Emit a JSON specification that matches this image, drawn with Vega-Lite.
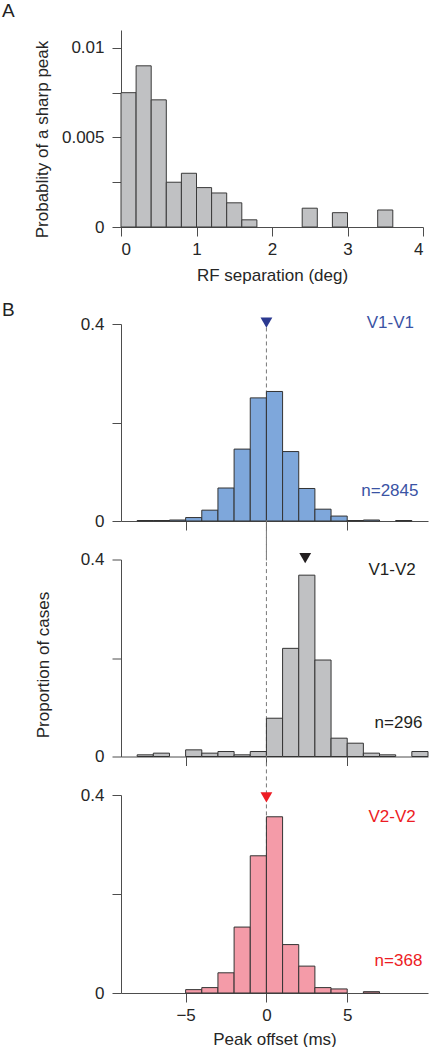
{
  "$schema": "https://vega.github.io/schema/vega-lite/v6.json",
  "background": "white",
  "padding": {"left": 2, "top": 2, "right": 0, "bottom": 0},
  "bounds": "flush",
  "spacing": 38.5,
  "config": {
    "view": {"stroke": null},
    "font": "Liberation Sans",
    "axis": {
      "domainColor": "#4d4d4d", "tickColor": "#4d4d4d", "labelColor": "#262626", "titleColor": "#262626",
      "labelFont": "Liberation Sans", "titleFont": "Liberation Sans", "labelFontSize": 17, "titleFontSize": 17,
      "titleFontWeight": "normal", "tickSize": 9, "grid": false, "labelPadding": 5, "domainWidth": 1, "tickWidth": 1
    },
    "axisY": {"labelPadding": 8},
    "title": {"font": "Liberation Sans", "fontSize": 19, "fontWeight": "normal", "color": "#222222", "anchor": "start", "frame": "group"}
  },
  "datasets": {
    "separation": [
      {"sep_start": 0.0, "sep_end": 0.2, "probability": 0.0075},
      {"sep_start": 0.2, "sep_end": 0.4, "probability": 0.0090},
      {"sep_start": 0.4, "sep_end": 0.6, "probability": 0.0071},
      {"sep_start": 0.6, "sep_end": 0.8, "probability": 0.0025},
      {"sep_start": 0.8, "sep_end": 1.0, "probability": 0.0030},
      {"sep_start": 1.0, "sep_end": 1.2, "probability": 0.0022},
      {"sep_start": 1.2, "sep_end": 1.4, "probability": 0.0019},
      {"sep_start": 1.4, "sep_end": 1.6, "probability": 0.00135},
      {"sep_start": 1.6, "sep_end": 1.8, "probability": 0.0004},
      {"sep_start": 2.4, "sep_end": 2.6, "probability": 0.00105},
      {"sep_start": 2.8, "sep_end": 3.0, "probability": 0.0008},
      {"sep_start": 3.4, "sep_end": 3.6, "probability": 0.00095}
    ],
    "offsets": [
      {"pair": "V1-V1", "offset_start": -8, "offset_end": -7, "proportion": 0.001},
      {"pair": "V1-V1", "offset_start": -7, "offset_end": -6, "proportion": 0.001},
      {"pair": "V1-V1", "offset_start": -6, "offset_end": -5, "proportion": 0.002},
      {"pair": "V1-V1", "offset_start": -5, "offset_end": -4, "proportion": 0.007},
      {"pair": "V1-V1", "offset_start": -4, "offset_end": -3, "proportion": 0.022},
      {"pair": "V1-V1", "offset_start": -3, "offset_end": -2, "proportion": 0.067},
      {"pair": "V1-V1", "offset_start": -2, "offset_end": -1, "proportion": 0.146},
      {"pair": "V1-V1", "offset_start": -1, "offset_end": 0, "proportion": 0.250},
      {"pair": "V1-V1", "offset_start": 0, "offset_end": 1, "proportion": 0.263},
      {"pair": "V1-V1", "offset_start": 1, "offset_end": 2, "proportion": 0.141},
      {"pair": "V1-V1", "offset_start": 2, "offset_end": 3, "proportion": 0.066},
      {"pair": "V1-V1", "offset_start": 3, "offset_end": 4, "proportion": 0.024},
      {"pair": "V1-V1", "offset_start": 4, "offset_end": 5, "proportion": 0.010},
      {"pair": "V1-V1", "offset_start": 5, "offset_end": 6, "proportion": 0.001},
      {"pair": "V1-V1", "offset_start": 6, "offset_end": 7, "proportion": 0.002},
      {"pair": "V1-V1", "offset_start": 8, "offset_end": 9, "proportion": 0.001},
      {"pair": "V1-V2", "offset_start": -8, "offset_end": -7, "proportion": 0.0034},
      {"pair": "V1-V2", "offset_start": -7, "offset_end": -6, "proportion": 0.0068},
      {"pair": "V1-V2", "offset_start": -5, "offset_end": -4, "proportion": 0.0135},
      {"pair": "V1-V2", "offset_start": -4, "offset_end": -3, "proportion": 0.0068},
      {"pair": "V1-V2", "offset_start": -3, "offset_end": -2, "proportion": 0.0101},
      {"pair": "V1-V2", "offset_start": -2, "offset_end": -1, "proportion": 0.0034},
      {"pair": "V1-V2", "offset_start": -1, "offset_end": 0, "proportion": 0.0101},
      {"pair": "V1-V2", "offset_start": 0, "offset_end": 1, "proportion": 0.0777},
      {"pair": "V1-V2", "offset_start": 1, "offset_end": 2, "proportion": 0.2196},
      {"pair": "V1-V2", "offset_start": 2, "offset_end": 3, "proportion": 0.3682},
      {"pair": "V1-V2", "offset_start": 3, "offset_end": 4, "proportion": 0.1959},
      {"pair": "V1-V2", "offset_start": 4, "offset_end": 5, "proportion": 0.0372},
      {"pair": "V1-V2", "offset_start": 5, "offset_end": 6, "proportion": 0.0270},
      {"pair": "V1-V2", "offset_start": 6, "offset_end": 7, "proportion": 0.0068},
      {"pair": "V1-V2", "offset_start": 7, "offset_end": 8, "proportion": 0.0034},
      {"pair": "V1-V2", "offset_start": 9, "offset_end": 10, "proportion": 0.0101},
      {"pair": "V2-V2", "offset_start": -5, "offset_end": -4, "proportion": 0.0068},
      {"pair": "V2-V2", "offset_start": -4, "offset_end": -3, "proportion": 0.0109},
      {"pair": "V2-V2", "offset_start": -3, "offset_end": -2, "proportion": 0.0408},
      {"pair": "V2-V2", "offset_start": -2, "offset_end": -1, "proportion": 0.1332},
      {"pair": "V2-V2", "offset_start": -1, "offset_end": 0, "proportion": 0.2772},
      {"pair": "V2-V2", "offset_start": 0, "offset_end": 1, "proportion": 0.3560},
      {"pair": "V2-V2", "offset_start": 1, "offset_end": 2, "proportion": 0.0978},
      {"pair": "V2-V2", "offset_start": 2, "offset_end": 3, "proportion": 0.0543},
      {"pair": "V2-V2", "offset_start": 3, "offset_end": 4, "proportion": 0.0109},
      {"pair": "V2-V2", "offset_start": 4, "offset_end": 5, "proportion": 0.0082},
      {"pair": "V2-V2", "offset_start": 6, "offset_end": 7, "proportion": 0.0027}
    ],
    "pairs": [
      {"pair": "V1-V1", "median": 0, "n_label": "n=2845"},
      {"pair": "V1-V2", "median": 2.4, "n_label": "n=296"},
      {"pair": "V2-V2", "median": 0, "n_label": "n=368"}
    ]
  },
  "vconcat": [
    {
      "width": 302, "height": 197,
      "title": {"text": "A", "dx": -119, "offset": 9},
      "data": {"name": "separation"},
      "mark": {"type": "rect", "fill": "#c0c1c3", "stroke": "#3a3a3a", "strokeWidth": 1},
      "encoding": {
        "x": {"field": "sep_start", "type": "quantitative", "scale": {"domain": [0, 4], "nice": false},
              "axis": {"values": [0, 1, 2, 3, 4], "format": "~g", "title": "RF separation (deg)", "titlePadding": 10}},
        "x2": {"field": "sep_end"},
        "y": {"field": "probability", "type": "quantitative", "scale": {"domain": [0, 0.011], "nice": false},
              "axis": {"values": [0, 0.0025, 0.005, 0.0075, 0.01], "format": "~g",
                       "labelExpr": "datum.value == 0.0025 || datum.value == 0.0075 ? '' : datum.label",
                       "title": "Probablity of a sharp peak", "titleY": 109, "titlePadding": 10}},
        "y2": {"datum": 0}
      }
    },
    {
      "width": 1, "height": 20,
      "data": {"values": []},
      "mark": "point"
    },
    {
      "width": 307, "height": 197,
      "title": {"text": "B", "dx": -119, "offset": 0, "dy": 6},
      "layer": [
        {
          "data": {"name": "pairs"}, "transform": [{"filter": "datum.pair === 'V1-V1'"}],
          "mark": {"type": "rule", "stroke": "#777777", "strokeDash": [4, 3], "strokeWidth": 1},
          "encoding": {
            "x": {"datum": 0, "type": "quantitative", "scale": {"domain": [-9, 10], "nice": false}},
            "y": {"datum": 0.393, "type": "quantitative", "scale": {"domain": [0, 0.4], "nice": false}},
            "y2": {"datum": -0.08}
          }
        },
        {
          "data": {"name": "offsets"}, "transform": [{"filter": "datum.pair === 'V1-V1'"}],
          "mark": {"type": "rect", "fill": "#7ea7db", "stroke": "#333333", "strokeWidth": 1},
          "encoding": {
            "x": {"field": "offset_start", "type": "quantitative", "scale": {"domain": [-9, 10], "nice": false},
                  "axis": {"values": [-5, 0, 5], "labels": false, "title": null}},
            "x2": {"field": "offset_end"},
            "y": {"field": "proportion", "type": "quantitative", "scale": {"domain": [0, 0.4], "nice": false},
                  "axis": {"values": [0, 0.2, 0.4], "format": "~g", "labelExpr": "datum.value == 0.2 ? '' : datum.label", "title": null}},
            "y2": {"datum": 0}
          }
        },
        {
          "data": {"name": "pairs"}, "transform": [{"filter": "datum.pair === 'V1-V1'"}],
          "mark": {"type": "point", "shape": "triangle-down", "filled": true, "size": 140, "opacity": 1, "color": "#2b3990"},
          "encoding": {
            "x": {"field": "median", "type": "quantitative"},
            "y": {"datum": 0.403, "type": "quantitative"}
          }
        },
        {
          "data": {"name": "pairs"}, "transform": [{"filter": "datum.pair === 'V1-V1'"}],
          "mark": {"type": "text", "align": "right", "baseline": "alphabetic", "fontSize": 17, "color": "#3a53a4"},
          "encoding": {
            "x": {"datum": 9.13, "type": "quantitative"},
            "y": {"datum": 0.392, "type": "quantitative"},
            "text": {"field": "pair"}
          }
        },
        {
          "data": {"name": "pairs"}, "transform": [{"filter": "datum.pair === 'V1-V1'"}],
          "mark": {"type": "text", "align": "right", "baseline": "alphabetic", "fontSize": 17, "color": "#3a53a4"},
          "encoding": {
            "x": {"datum": 9.41, "type": "quantitative"},
            "y": {"datum": 0.0514, "type": "quantitative"},
            "text": {"field": "n_label"}
          }
        }
      ]
    },
    {
      "width": 307, "height": 197,
      "layer": [
        {
          "data": {"name": "pairs"}, "transform": [{"filter": "datum.pair === 'V1-V2'"}],
          "mark": {"type": "rule", "stroke": "#777777", "strokeDash": [4, 3], "strokeWidth": 1},
          "encoding": {
            "x": {"datum": 0, "type": "quantitative", "scale": {"domain": [-9, 10], "nice": false}},
            "y": {"datum": 0.48, "type": "quantitative", "scale": {"domain": [0, 0.4], "nice": false}},
            "y2": {"datum": 0}
          }
        },
        {
          "data": {"name": "offsets"}, "transform": [{"filter": "datum.pair === 'V1-V2'"}],
          "mark": {"type": "rect", "fill": "#c0c1c3", "stroke": "#333333", "strokeWidth": 1},
          "encoding": {
            "x": {"field": "offset_start", "type": "quantitative", "scale": {"domain": [-9, 10], "nice": false},
                  "axis": {"values": [-5, 0, 5], "labels": false, "title": null}},
            "x2": {"field": "offset_end"},
            "y": {"field": "proportion", "type": "quantitative", "scale": {"domain": [0, 0.4], "nice": false},
                  "axis": {"values": [0, 0.2, 0.4], "format": "~g", "labelExpr": "datum.value == 0.2 ? '' : datum.label",
                           "title": "Proportion of cases", "titleY": 105, "titlePadding": 28}},
            "y2": {"datum": 0}
          }
        },
        {
          "data": {"name": "pairs"}, "transform": [{"filter": "datum.pair === 'V1-V2'"}],
          "mark": {"type": "point", "shape": "triangle-down", "filled": true, "size": 140, "opacity": 1, "color": "#231f20"},
          "encoding": {
            "x": {"field": "median", "type": "quantitative"},
            "y": {"datum": 0.403, "type": "quantitative"}
          }
        },
        {
          "data": {"name": "pairs"}, "transform": [{"filter": "datum.pair === 'V1-V2'"}],
          "mark": {"type": "text", "align": "right", "baseline": "alphabetic", "fontSize": 17, "color": "#231f20"},
          "encoding": {
            "x": {"datum": 9.24, "type": "quantitative"},
            "y": {"datum": 0.3677, "type": "quantitative"},
            "text": {"field": "pair"}
          }
        },
        {
          "data": {"name": "pairs"}, "transform": [{"filter": "datum.pair === 'V1-V2'"}],
          "mark": {"type": "text", "align": "right", "baseline": "alphabetic", "fontSize": 17, "color": "#231f20"},
          "encoding": {
            "x": {"datum": 9.65, "type": "quantitative"},
            "y": {"datum": 0.0574, "type": "quantitative"},
            "text": {"field": "n_label"}
          }
        }
      ]
    },
    {
      "width": 307, "height": 198,
      "layer": [
        {
          "data": {"name": "pairs"}, "transform": [{"filter": "datum.pair === 'V2-V2'"}],
          "mark": {"type": "rule", "stroke": "#777777", "strokeDash": [4, 3], "strokeWidth": 1},
          "encoding": {
            "x": {"datum": 0, "type": "quantitative", "scale": {"domain": [-9, 10], "nice": false}},
            "y": {"datum": 0.48, "type": "quantitative", "scale": {"domain": [0, 0.4], "nice": false}},
            "y2": {"datum": 0.2}
          }
        },
        {
          "data": {"name": "offsets"}, "transform": [{"filter": "datum.pair === 'V2-V2'"}],
          "mark": {"type": "rect", "fill": "#f49ba8", "stroke": "#333333", "strokeWidth": 1},
          "encoding": {
            "x": {"field": "offset_start", "type": "quantitative", "scale": {"domain": [-9, 10], "nice": false},
                  "axis": {"values": [-5, 0, 5], "format": "~g", "title": "Peak offset (ms)", "titlePadding": 8}},
            "x2": {"field": "offset_end"},
            "y": {"field": "proportion", "type": "quantitative", "scale": {"domain": [0, 0.4], "nice": false},
                  "axis": {"values": [0, 0.2, 0.4], "format": "~g", "labelExpr": "datum.value == 0.2 ? '' : datum.label", "title": null}},
            "y2": {"datum": 0}
          }
        },
        {
          "data": {"name": "pairs"}, "transform": [{"filter": "datum.pair === 'V2-V2'"}],
          "mark": {"type": "point", "shape": "triangle-down", "filled": true, "size": 140, "opacity": 1, "color": "#ed1c24"},
          "encoding": {
            "x": {"field": "median", "type": "quantitative"},
            "y": {"datum": 0.395, "type": "quantitative"}
          }
        },
        {
          "data": {"name": "pairs"}, "transform": [{"filter": "datum.pair === 'V2-V2'"}],
          "mark": {"type": "text", "align": "right", "baseline": "alphabetic", "fontSize": 17, "color": "#ed1c24"},
          "encoding": {
            "x": {"datum": 9.24, "type": "quantitative"},
            "y": {"datum": 0.346, "type": "quantitative"},
            "text": {"field": "pair"}
          }
        },
        {
          "data": {"name": "pairs"}, "transform": [{"filter": "datum.pair === 'V2-V2'"}],
          "mark": {"type": "text", "align": "right", "baseline": "alphabetic", "fontSize": 17, "color": "#ed1c24"},
          "encoding": {
            "x": {"datum": 9.65, "type": "quantitative"},
            "y": {"datum": 0.0537, "type": "quantitative"},
            "text": {"field": "n_label"}
          }
        }
      ]
    }
  ]
}
